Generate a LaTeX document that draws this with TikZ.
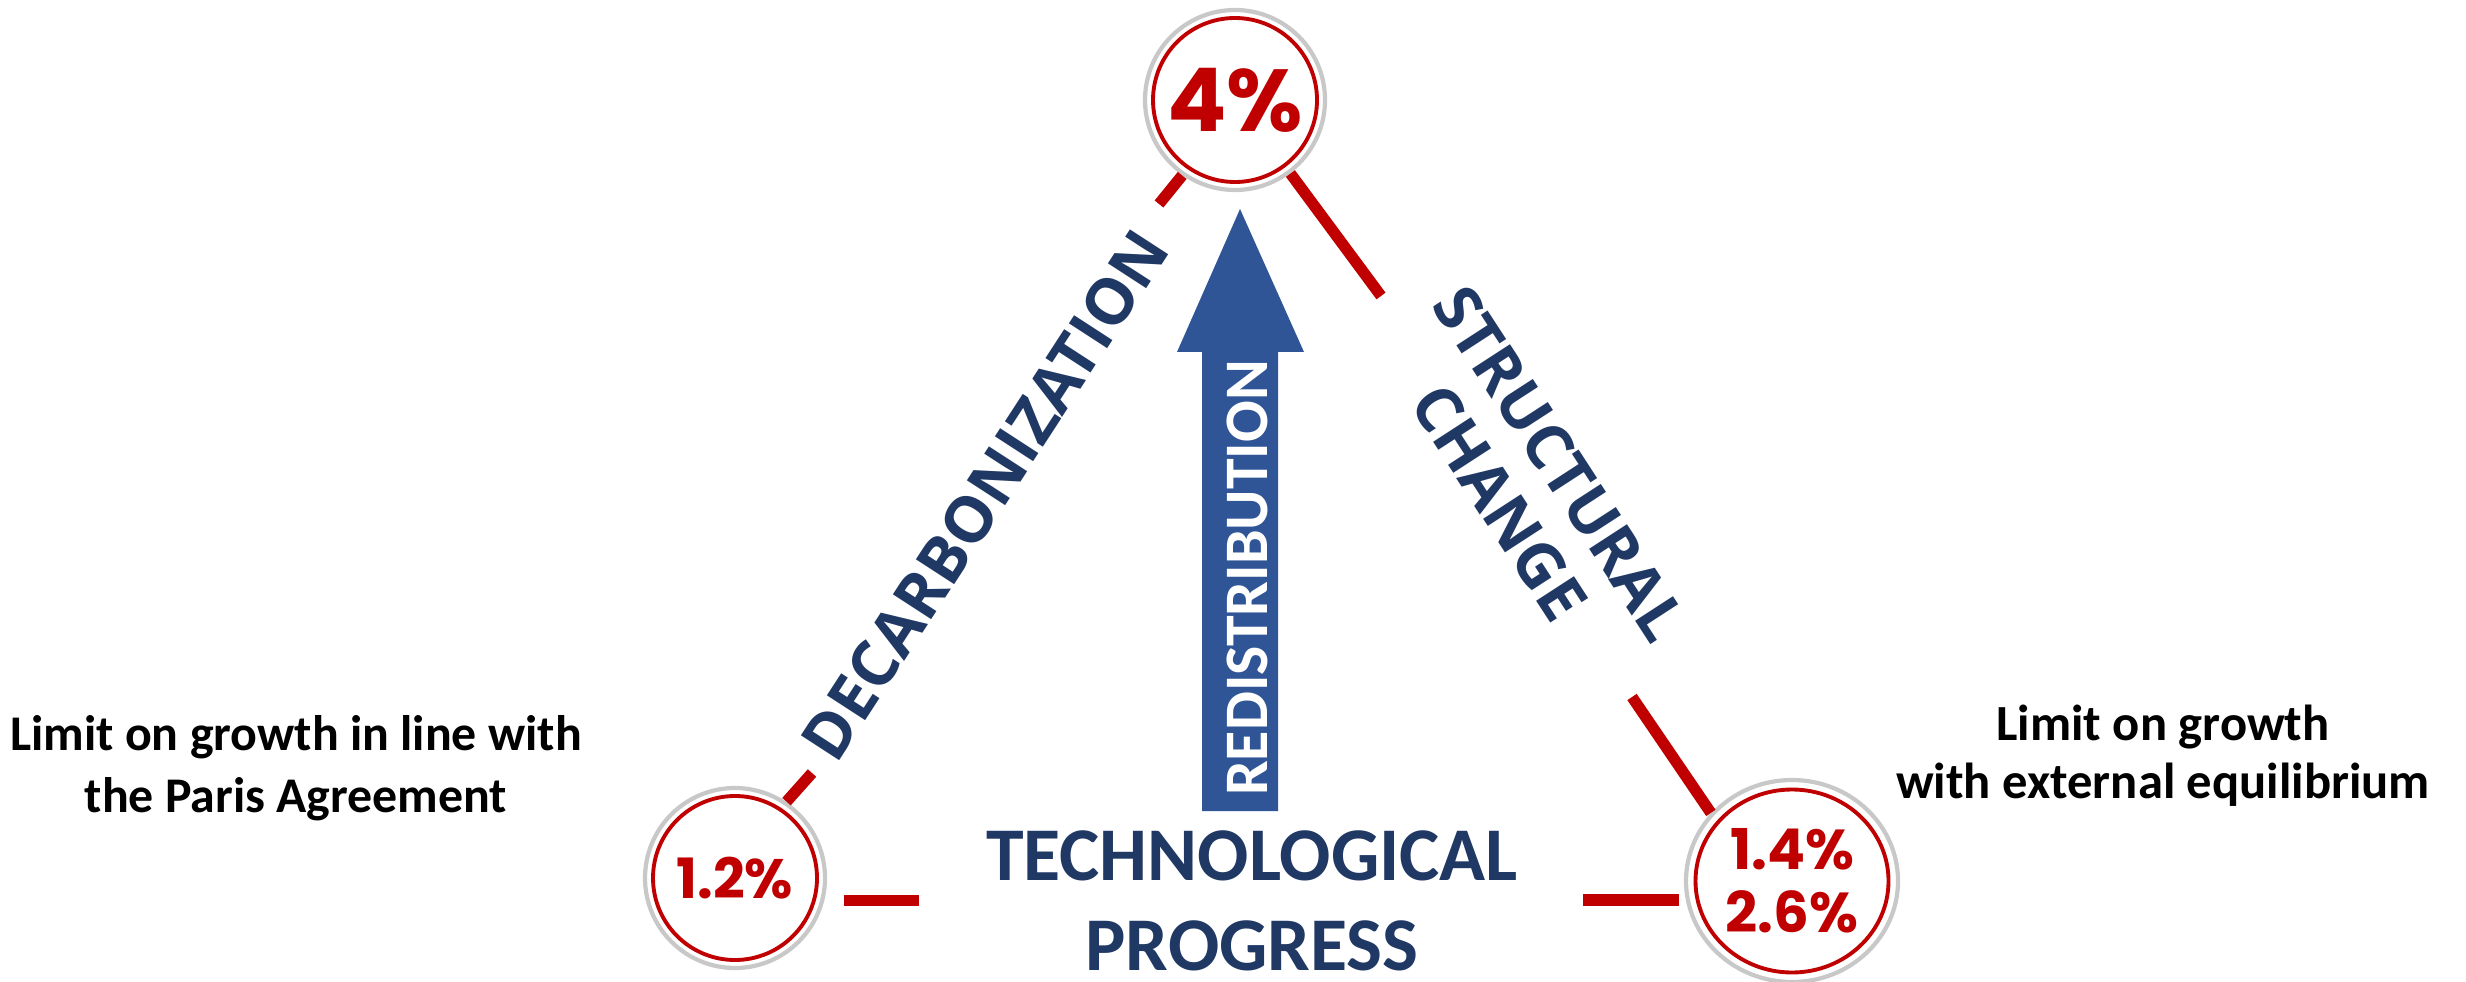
\documentclass[tikz,border=0pt]{standalone}
\usepackage{fontspec}
\setmainfont{Carlito}
\newfontfamily\pctfont{Poppins}
\newfontfamily\slantfont{Open Sans}
\usepackage{tikz}
\usetikzlibrary{calc}
\usetikzlibrary{positioning,shapes.geometric}
\definecolor{darkred}{RGB}{192,0,0}
\definecolor{navy}{RGB}{32,56,100}
\definecolor{arrowblue}{RGB}{47,85,151}
\definecolor{ringgray}{RGB}{200,200,200}
\tikzset{
    redbar/.style={
        line width=3.2pt,
        darkred
    },
    % gray outer ring with the value inside
    outerring/.style={
        circle,
        draw=ringgray,
        line width=1.2pt,
        fill=white,
        inner sep=0pt,
        text=darkred,
        align=center,
        font=\pctfont\bfseries
    },
    innerring/.style={
        line width=1.1pt,
        darkred
    },
    sidelabel/.style={
        black,
        align=center
    },
    edgelabel/.style={
        navy,
        align=center,
        font=\slantfont\bfseries\fontsize{18.2}{22}\selectfont
    }
}

\begin{document}
\begin{tikzpicture}
    \useasboundingbox (0,0) rectangle (24.66,9.81);
    \node[outerring, minimum size=1.80cm, font=\pctfont\bfseries\fontsize{25}{30}\selectfont] (c4) at (12.35,8.81) {4\%};
    \node[outerring, minimum size=1.80cm, font=\pctfont\bfseries\fontsize{15.8}{18}\selectfont] (c12) at (7.35,1.03) {1.2\%};
    \node[outerring, ellipse, minimum width=2.12cm, minimum height=2.02cm, font=\pctfont\bfseries\fontsize{16}{17.9}\selectfont] (c14) at (17.92,1.00) {1.4\%\\2.6\%};
    \draw[innerring] (c4.center) circle (0.82);
    \draw[innerring] (c12.center) circle (0.82);
    \draw[innerring] (c14.center) ellipse [x radius=0.965, y radius=0.915];

    % free ends of the red bars
    \coordinate (e1) at (8.12,2.08);
    \coordinate (e2) at (11.59,7.77);
    \coordinate (e3) at (13.81,6.85);
    \coordinate (e4) at (16.32,2.84);
    \draw[redbar] (c12.56) -- (e1);
    \draw[redbar] (c4.-125) -- (e2);
    \draw[redbar] (c4.-53) -- (e3);
    \draw[redbar] (c14.140) -- (e4);
    \draw[redbar] ([xshift=2mm]c12.-14) -- ++(0.75,0);
    \draw[redbar] ([xshift=-0.5mm,yshift=-1.9mm]c14.west) -- ++(-0.96,0);

    % redistribution arrow
    \fill[arrowblue] (12.02,1.70) -- (12.02,6.29) -- (11.77,6.29) -- (12.40,7.72)
        -- (13.04,6.29) -- (12.78,6.29) -- (12.78,1.70) -- cycle;
    \node[rotate=90, white, font=\bfseries\fontsize{17.6}{20}\selectfont] (redis) at (12.47,4.03) {REDISTRIBUTION};

    \node[edgelabel, rotate=57] (decarb) at (9.85,4.86) {DECARBONIZATION};
    \node[edgelabel, rotate=-57, font=\slantfont\bfseries\fontsize{18}{20.5}\selectfont] (struct) at (15.30,4.98) {STRUCTURAL\\CHANGE};
    \node[navy, align=center, inner sep=0pt, font=\bfseries\fontsize{21.6}{25.6}\selectfont] (tech) at (12.52,0.80) {TECHNOLOGICAL\\PROGRESS};

    \node[sidelabel, font=\bfseries\fontsize{14.2}{17.5}\selectfont] (paris) at (2.96,2.13) {Limit on growth in line with\\the Paris Agreement};
    \node[sidelabel, font=\bfseries\fontsize{14.4}{16.5}\selectfont] (extern) at (21.63,2.25) {Limit on growth\\with external equilibrium};
\end{tikzpicture}
\end{document}
